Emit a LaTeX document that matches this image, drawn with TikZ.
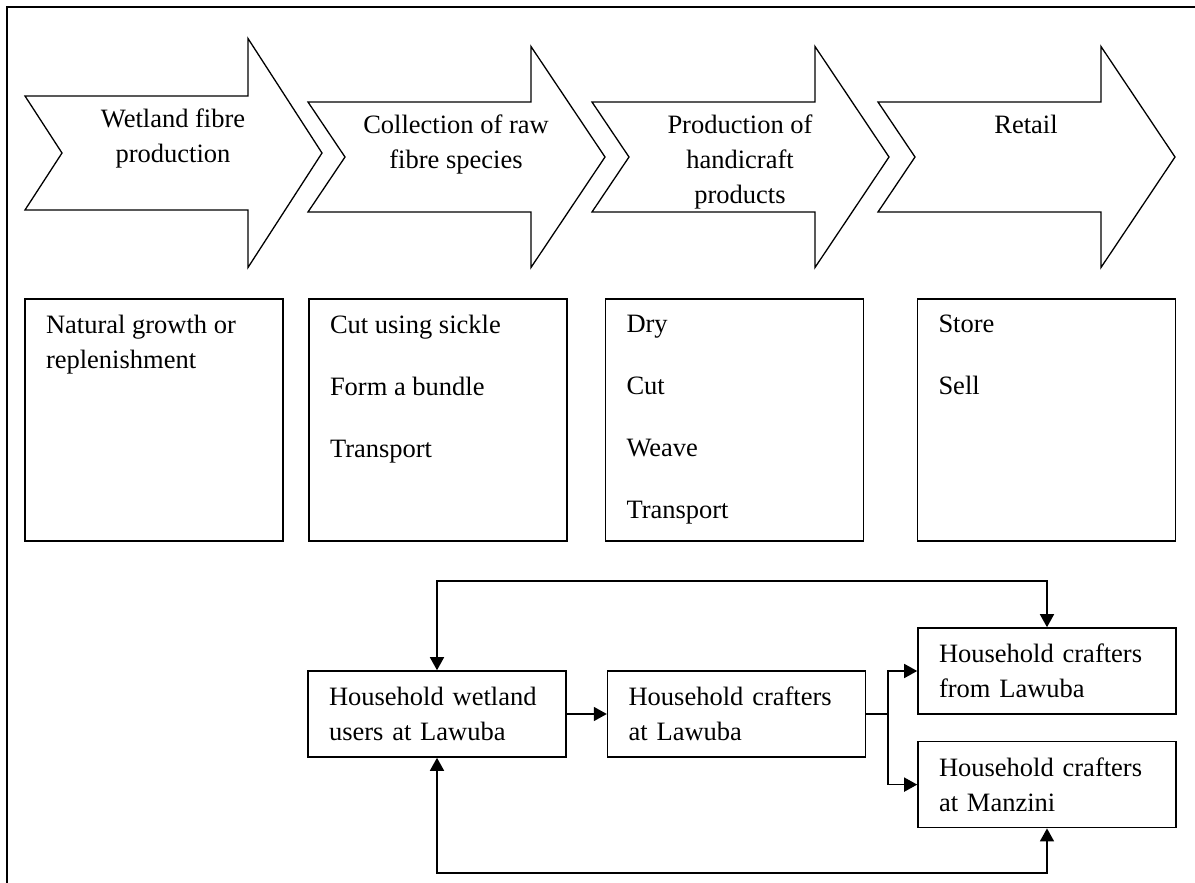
\documentclass[tikz,border=0pt]{standalone}
\usepackage{fontspec}
\setmainfont{Liberation Serif}
\usetikzlibrary{arrows.meta,positioning}
\tikzset{>={Triangle[length=13pt,width=14pt]}}

\begin{document}
\begin{tikzpicture}[x=1pt,y=-1pt,line width=1.6pt,
    font=\fontsize{26.5}{35}\selectfont]
\tikzstyle{chainlabel}=[align=center,anchor=north,inner sep=0pt]
\tikzstyle{taskbox}=[draw,minimum width=258pt,minimum height=242pt,inner sep=0pt]
\tikzstyle{tasktext}=[align=left,anchor=north west,inner sep=0pt]
\tikzstyle{actor}=[draw,align=left,text width=216pt,inner xsep=21pt,
    inner ysep=0pt,minimum height=86pt]

\useasboundingbox (0,0) rectangle (1195,883);
\clip (0,0) rectangle (1195,883);
\draw (7,883) -- (7,7) -- (1195,7);

% value chain stages
\foreach \x/\c/\s/\h/\lbl in {25/153/57/114.5/{Wetland fibre\\production},
    308/157/55/110.5/{Collection of raw\\fibre species},
    592/157/55/110.5/{Production of\\handicraft\\products},
    878/157/55/110.5/{Retail}}
{
  \draw[line width=1.3pt] (\x,\c-\s) -- (\x+223,\c-\s) -- (\x+223,\c-\h)
    -- (\x+297,\c) -- (\x+223,\c+\h) -- (\x+223,\c+\s) -- (\x,\c+\s)
    -- (\x+37,\c) -- cycle;
  \node[chainlabel] at (\x+148,\c-\s+12.5) {\lbl};
}

% activities
\node[taskbox] (natural) at (154,420) {};
\node[taskbox] (collect) at (438,420) {};
\node[taskbox] (craft) at (734.5,420) {};
\node[taskbox] (retail) at (1046.5,420) {};
\node[tasktext] at ([shift={(21pt,-16pt)}]natural.north west)
  {Natural growth or\\replenishment};
\node[tasktext] at ([shift={(21pt,-16pt)}]collect.north west)
  {Cut using sickle\\[27pt]Form a bundle\\[27pt]Transport};
\node[tasktext] at ([shift={(21pt,-16pt)}]craft.north west)
  {Dry\\[27pt]Cut\\[27pt]Weave\\[27pt]Transport};
\node[tasktext] at ([shift={(21pt,-16pt)}]retail.north west)
  {Store\\[27pt]Sell};

% actors
\node[actor] (users) at (437,714) {Household wetland\\users at Lawuba};
\node[actor,right=40pt of users] (crafters) {Household crafters\\at Lawuba};
\node[actor] (lawuba) at (1047,671) {Household crafters\\from Lawuba};
\node[actor,below=26pt of lawuba] (manzini) {Household crafters\\at Manzini};

\coordinate (fork) at (888,714);
\coordinate (loopT) at (742,581);
\coordinate (loopB) at (742,873);

\draw[->] (users) -- (crafters);
\draw (crafters.east) -- (fork);
\draw[->] (fork) |- (lawuba.west);
\draw[->] (fork) |- (manzini.west);
\draw[<->] (users.north) |- (loopT) -| (lawuba.north);
\draw[<->] (users.south) |- (loopB) -| (manzini.south);
\end{tikzpicture}
\end{document}
